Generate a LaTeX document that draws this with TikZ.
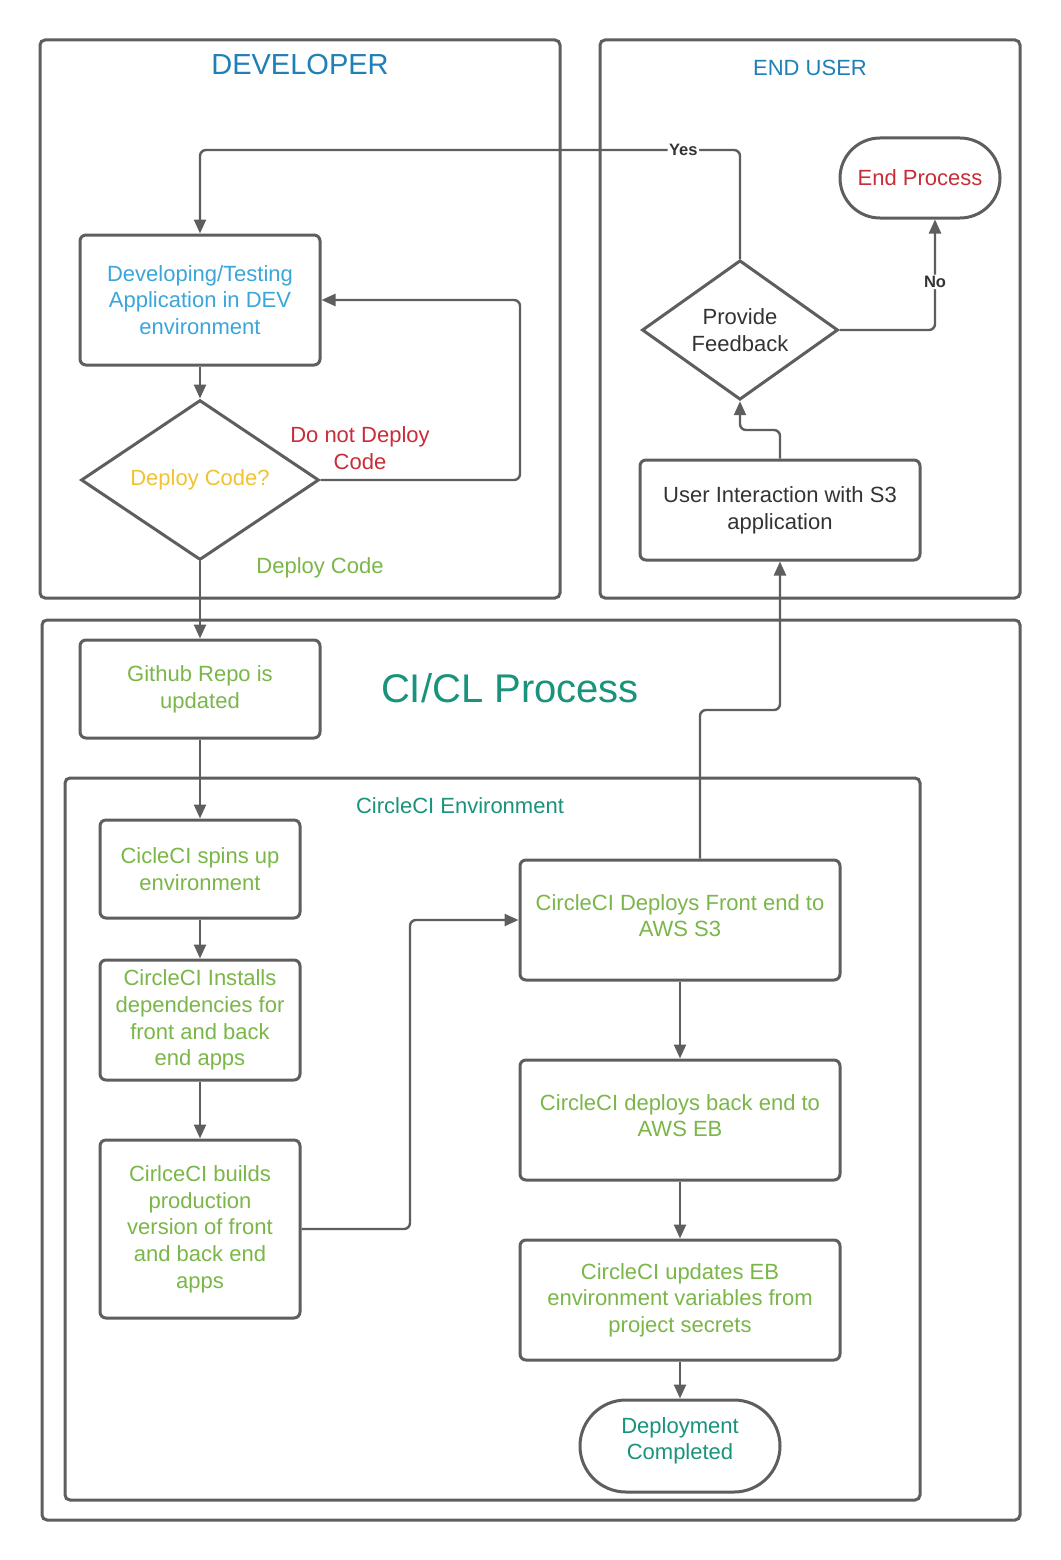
\documentclass[tikz,border=0pt]{standalone}
\usepackage{fontspec}
\setmainfont{Liberation Sans}
\usetikzlibrary{arrows.meta,shapes.geometric}
\definecolor{lgray}{HTML}{5E5E5E}
\definecolor{ltblue}{HTML}{3AA6DA}
\definecolor{dkblue}{HTML}{1F7FB8}
\definecolor{dyellow}{HTML}{F1C232}
\definecolor{dred}{HTML}{C92D39}
\definecolor{dgreen}{HTML}{7AB648}
\definecolor{dteal}{HTML}{19937C}
\definecolor{dtext}{HTML}{333333}
\tikzset{
  container/.style={draw=lgray, line width=3pt, rounded corners=5pt, inner sep=0pt},
  box/.style={draw=lgray, line width=3pt, rounded corners=6pt, align=center, inner sep=0pt,
    font=\fontsize{22}{26.7}\selectfont},
  decision/.style={draw=lgray, line width=3pt, diamond, inner sep=0pt, align=center,
    font=\fontsize{22}{26.7}\selectfont},
  conn/.style={draw=lgray, line width=2.4pt, -{Triangle[length=14pt,width=12pt]}, rounded corners=6pt},
  lbl/.style={font=\fontsize{22}{26.7}\selectfont, align=center, inner sep=1pt},
  yn/.style={font=\bfseries\fontsize{16.5}{19}\selectfont, fill=white, inner sep=1.5pt, text=dtext},
}
\begin{document}
\begin{tikzpicture}[x=1pt,y=-1pt]
\useasboundingbox[fill=white] (0,0) rectangle (1060,1560);
% containers
\node[container, minimum width=520, minimum height=558] (devarea) at (300,319) {};
\node[container, minimum width=420, minimum height=558] (userarea) at (810,319) {};
\node[container, minimum width=978, minimum height=900] (ciarea) at (531,1070) {};
\node[container, minimum width=855, minimum height=722] (envarea) at (492.5,1139) {};
% titles
\node[text=dkblue, font=\fontsize{29}{32}\selectfont] (devtitle) at (300,65) {DEVELOPER};
\node[text=dkblue, font=\fontsize{22}{26}\selectfont] (usertitle) at (810,68) {END USER};
\node[text=dteal, font=\fontsize{40}{46}\selectfont] (cititle) at (510,688) {CI/CL Process};
\node[text=dteal, font=\fontsize{22}{26}\selectfont] (envtitle) at (460,806) {CircleCI Environment};
% developer
\node[box, text=ltblue, minimum width=240, minimum height=130] (dev) at (200,300) {Developing/Testing\\Application in DEV\\environment};
\node[decision, text=dyellow, minimum width=238, minimum height=156] (dd) at (200,480) {Deploy Code?};
\node[lbl, text=dred] (nodeploy) at (360,448) {Do not Deploy\\Code};
\node[lbl, text=dgreen] (deploy) at (320,568) {Deploy Code};
% end user
\node[box, text=dred, rounded corners=40pt, minimum width=160, minimum height=80] (endp) at (920,178) {End Process};
\node[decision, text=dtext, minimum width=196, minimum height=136] (fb) at (740,330) {Provide\\Feedback};
\node[box, text=dtext, minimum width=280, minimum height=100] (user) at (780,510) {User Interaction with S3\\application};
% CI
\node[box, text=dgreen, minimum width=240, minimum height=98] (gh) at (200,689) {Github Repo is\\updated};
\node[box, text=dgreen, minimum width=200, minimum height=98] (spin) at (200,869) {CicleCI spins up\\environment};
\node[box, text=dgreen, minimum width=200, minimum height=120] (inst) at (200,1020) {CircleCI Installs\\dependencies for\\front and back\\end apps};
\node[box, text=dgreen, minimum width=200, minimum height=178] (build) at (200,1229) {CirlceCI builds\\production\\version of front\\and back end\\apps};
\node[box, text=dgreen, minimum width=320, minimum height=120] (front) at (680,920) {CircleCI Deploys Front end to\\AWS S3\\[-18pt]\mbox{}};
\node[box, text=dgreen, minimum width=320, minimum height=120] (back) at (680,1120) {CircleCI deploys back end to\\AWS EB\\[-18pt]\mbox{}};
\node[box, text=dgreen, minimum width=320, minimum height=120] (upd) at (680,1300) {CircleCI updates EB\\environment variables from\\project secrets};
\node[box, text=dteal, rounded corners=46pt, minimum width=200, minimum height=92] (done) at (680,1446) {Deployment\\Completed\\[-12pt]\mbox{}};
% connectors
\draw[conn] (dev.south) -- (dd.north);
\draw[conn] (dd.east) -- (520,480) -- (520,300) -- (dev.east);
\draw[conn] (dd.south) -- (gh.north);
\draw[conn] (gh.south) -- (spin.north);
\draw[conn] (spin.south) -- (inst.north);
\draw[conn] (inst.south) -- (build.north);
\draw[conn] (build.east) -- (410,1229) -- (410,920) -- (front.west);
\draw[conn] (front.south) -- (back.north);
\draw[conn] (back.south) -- (upd.north);
\draw[conn] (upd.south) -- (done.north);
\draw[conn] ([xshift=20pt]front.north) -- (700,710) -- (780,710) -- (user.south);
\draw[conn] (user.north) -- (780,430) -- (740,430) -- (fb.south);
\draw[conn] (fb.north) -- (740,150) -- node[yn, pos=0.105] {Yes} (200,150) -- (dev.north);
\draw[conn] (fb.east) -- (935,330) -- node[yn, pos=0.43] {No} (935,218) -- ([xshift=15pt]endp.south);
\end{tikzpicture}
\end{document}
